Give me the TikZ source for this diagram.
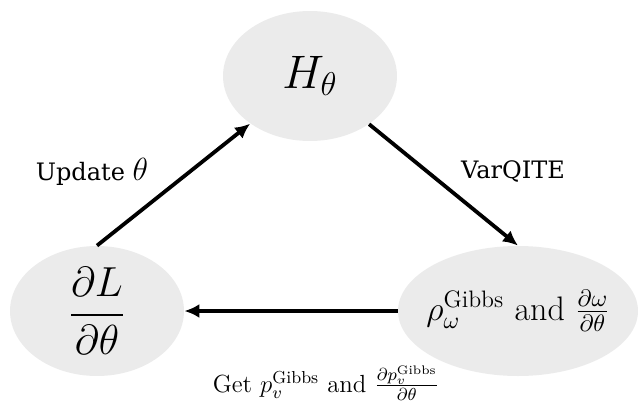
\RequirePackage{fix-cm}
\documentclass[tikz,border=0pt]{standalone}
\usepackage{amsmath,amssymb}
\usepackage{fontspec}
\newfontfamily\slabfont{DejaVu Serif}
\usepackage{tikz}
\usetikzlibrary{arrows.meta, positioning, shapes.geometric}

\begin{document}
\begin{tikzpicture}[
  x=1pt, y=1pt,
  blob/.style={ellipse, fill=black!8, inner sep=0pt, minimum width=87pt,
               minimum height=65pt, align=center},
  arr/.style={-{Latex[length=7.5pt,width=7pt]}, black, line width=1.9pt},
  lbl/.style={font=\fontsize{12}{14}\selectfont\slabfont, inner sep=0pt},
]
  \useasboundingbox (0,0) rectangle (319,207);

  \node[blob] (ham) at (155,169) {\fontsize{23.5}{28}\selectfont $H_\theta$};
  \node[blob] (grad) at (48.5,51.5) {\fontsize{21}{25}\selectfont $\dfrac{\partial L}{\partial\theta}$};
  \node[blob, minimum width=120pt, inner xsep=-8pt] (gibbs) at (259,51.5)
    {\fontsize{17}{20}\selectfont $\rho_\omega^{\mathrm{Gibbs}}$ and $\frac{\partial\omega}{\partial\theta}$};

  \node[lbl] (upd) at (46,121) {Update {\fontsize{16}{18}\selectfont$\theta$}};
  \node[lbl] (vqite) at (256.5,121) {VarQITE};
  \node[inner sep=0pt, font=\fontsize{12.4}{15}\selectfont] (get) at (163,15.5)
    {Get $p_v^{\mathrm{Gibbs}}$ and $\frac{\partial p_v^{\mathrm{Gibbs}}}{\partial\theta}$};

  \draw[arr] (grad.north) -- (ham);
  \draw[arr] (ham) -- (gibbs.north);
  \draw[arr] (gibbs.west) -- (grad.east);
\end{tikzpicture}
\end{document}
